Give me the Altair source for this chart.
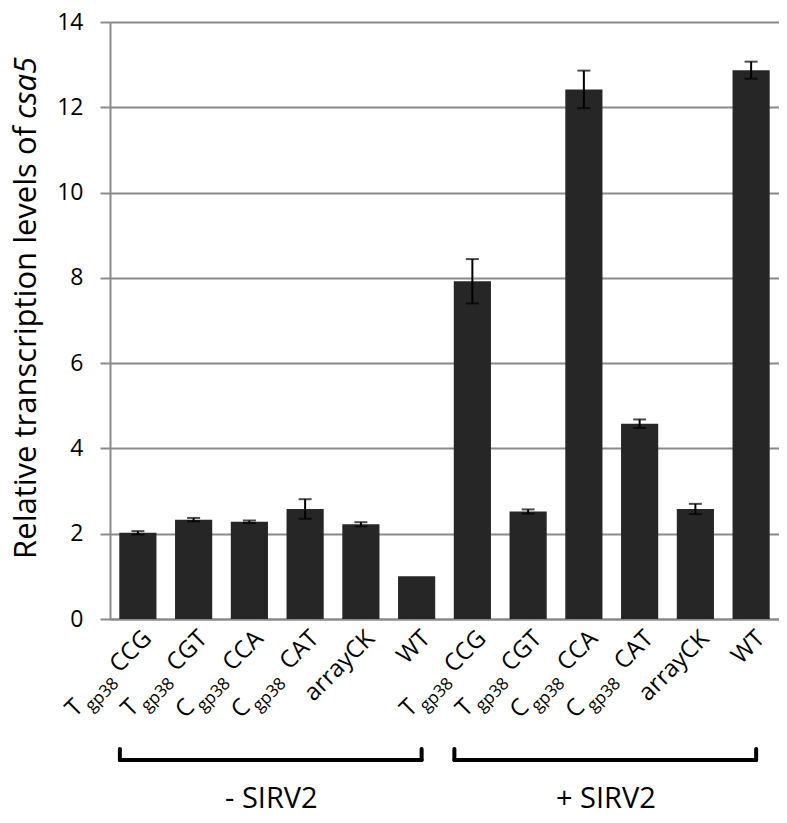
import altair as alt
import pandas as pd

# ---- data ----
prefix = ["T", "T", "C", "C", "", "", "T", "T", "C", "C", "", ""]
subscript = ["gp38", "gp38", "gp38", "gp38", "", "", "gp38", "gp38", "gp38", "gp38", "", ""]
main_label = ["CCG", "CGT", "CCA", "CAT", "arrayCK", "WT",
              "CCG", "CGT", "CCA", "CAT", "arrayCK", "WT"]
condition = ["- SIRV2"] * 6 + ["+ SIRV2"] * 6
values = [2.02, 2.33, 2.28, 2.58, 2.22, 1.00, 7.92, 2.52, 12.42, 4.58, 2.58, 12.87]
errors = [0.04, 0.04, 0.03, 0.23, 0.05, 0.0, 0.52, 0.05, 0.44, 0.10, 0.12, 0.20]
y_ticks = [0, 2, 4, 6, 8, 10, 12, 14]
groups = ["- SIRV2", "+ SIRV2"]
title_main = "Relative transcription levels of"
title_gene = "csa5"

FONT = "Open Sans"
GRAY = "#8a8a8a"
BAR = "#262626"
W, H = 669, 597

ids = [f"{p}{s} {m} ({c})" for p, s, m, c in zip(prefix, subscript, main_label, condition)]
df = pd.DataFrame({
    "id": ids, "prefix": prefix, "sub": subscript, "main": main_label,
    "cond": condition, "value": values, "err": errors,
})
df["lo"] = df["value"] - df["err"]
df["hi"] = df["value"] + df["err"]

gdf = pd.DataFrame({
    "group": groups,
    "first": [ids[0], ids[6]],
    "last": [ids[5], ids[11]],
    "mid": [ids[2], ids[8]],
})

xscale = alt.Scale(domain=ids, paddingInner=1 / 3, paddingOuter=1 / 6)
xaxis = alt.Axis(labels=False, ticks=False, title=None, domainColor=GRAY, domainWidth=2)


def X(field):
    return alt.X(f"{field}:N", scale=xscale, axis=xaxis)


yscale = alt.Scale(domain=[0, 14], nice=False)
yaxis = alt.Axis(values=y_ticks, title=None, grid=True)

bars = alt.Chart(df).mark_bar(color=BAR).encode(
    x=X("id"), y=alt.Y("value:Q", scale=yscale, axis=yaxis)
)

err_df = df[df["err"] > 0]
err_rule = alt.Chart(err_df).mark_rule(color="black", strokeWidth=2).encode(
    x=X("id"), y=alt.Y("lo:Q", scale=yscale, axis=yaxis), y2="hi:Q"
)
cap_lo = alt.Chart(err_df).mark_tick(color="black", thickness=2, size=13).encode(
    x=X("id"), y=alt.Y("lo:Q", scale=yscale, axis=yaxis)
)
cap_hi = alt.Chart(err_df).mark_tick(color="black", thickness=2, size=13).encode(
    x=X("id"), y=alt.Y("hi:Q", scale=yscale, axis=yaxis)
)

LBL_Y = H + 21
LBL_DX = 15
lbl_base = alt.Chart(df).encode(x=X("id"), y=alt.value(LBL_Y))
lbl_main = lbl_base.mark_text(
    angle=315, align="right", baseline="alphabetic", font=FONT, fontSize=24,
    color="black", xOffset=LBL_DX
).encode(text="main:N")
sub_df = df[df["sub"] != ""]
lbl_sub = alt.Chart(sub_df).mark_text(
    angle=315, align="right", baseline="alphabetic", font=FONT, fontSize=17,
    color="black", xOffset=LBL_DX, dx=-55, dy=8
).encode(x=X("id"), y=alt.value(LBL_Y), text="sub:N")
lbl_pre = alt.Chart(sub_df).mark_text(
    angle=315, align="right", baseline="alphabetic", font=FONT, fontSize=24,
    color="black", xOffset=LBL_DX, dx=-97
).encode(x=X("id"), y=alt.value(LBL_Y), text="prefix:N")

brk_h = alt.Chart(gdf).mark_rule(
    color="black", strokeWidth=4, xOffset=-18, x2Offset=5, strokeCap="round"
).encode(x=X("first"), x2="last:N", y=alt.value(738))
brk_l = alt.Chart(gdf).mark_rule(
    color="black", strokeWidth=4, xOffset=-18, strokeCap="round"
).encode(x=X("first"), y=alt.value(727), y2=alt.value(738))
brk_r = alt.Chart(gdf).mark_rule(
    color="black", strokeWidth=4, xOffset=5, strokeCap="round"
).encode(x=X("last"), y=alt.value(727), y2=alt.value(738))
grp_txt = alt.Chart(gdf).mark_text(
    font=FONT, fontSize=29, align="center", baseline="alphabetic", color="black",
    xOffset=22
).encode(x=X("mid"), y=alt.value(786), text="group:N")

tdf1 = pd.DataFrame({"t": [title_main]})
tdf2 = pd.DataFrame({"t": [title_gene]})
title1 = alt.Chart(tdf1).mark_text(
    angle=270, align="right", baseline="alphabetic", font=FONT, fontSize=31, color="black"
).encode(x=alt.value(-74), y=alt.value(104), text="t:N")
title2 = alt.Chart(tdf2).mark_text(
    angle=270, align="left", baseline="alphabetic", font=FONT, fontSize=31, color="black",
    fontStyle="italic"
).encode(x=alt.value(-74), y=alt.value(97), text="t:N")

chart = alt.layer(
    bars, err_rule, cap_lo, cap_hi, lbl_main, lbl_sub, lbl_pre,
    brk_h, brk_l, brk_r, grp_txt, title1, title2
).properties(
    width=W, height=H,
    autosize=alt.AutoSizeParams(type="none"),
    padding={"left": 102, "top": 14, "right": 0, "bottom": 196},
).configure_view(stroke=None).configure_axisY(
    labelFont=FONT, labelFontSize=23, labelColor="black", labelPadding=17,
    gridColor=GRAY, gridWidth=2, domainColor=GRAY, domainWidth=2,
    tickColor=GRAY, tickWidth=2, tickSize=10,
).configure_axisX(domainColor=GRAY, domainWidth=2)

chart.save("out.html", embed_options={"renderer": "svg", "actions": False})
